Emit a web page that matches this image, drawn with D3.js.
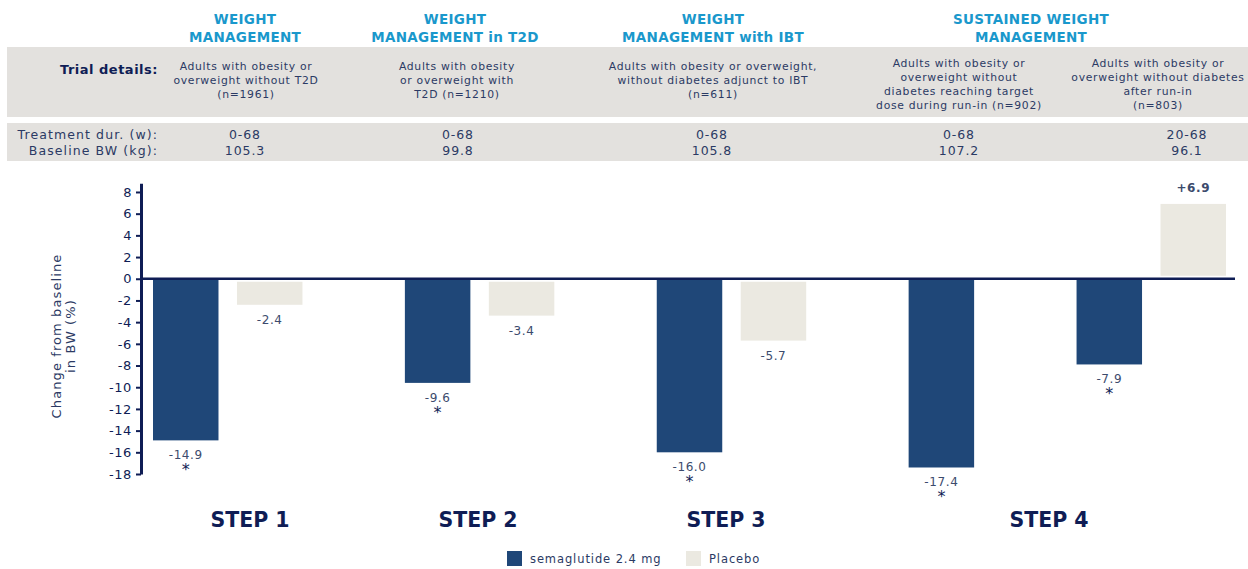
<!DOCTYPE html>
<html><head><meta charset="utf-8">
<script src="https://cdn.jsdelivr.net/npm/d3@7"></script>
<style>body{margin:0;background:#fff;} svg{display:block;font-family:"DejaVu Sans",Verdana,sans-serif;}</style>
</head><body><svg id="c" width="1248" height="569"></svg>
<script>
// ---------- data ----------
const studies = ["STEP 1", "STEP 2", "STEP 3", "STEP 4"];
const columnStudy = ["STEP 1", "STEP 2", "STEP 3", "STEP 4", "STEP 4"];
const semaValues = [-14.9, -9.6, -16.0, -17.4, -7.9];
const placeboValues = [-2.4, -3.4, -5.7, null, 6.9];
const semaSignificant = [true, true, true, true, true];
const seriesNames = ["semaglutide 2.4 mg", "Placebo"];
const trialTitles = [
  ["WEIGHT", "MANAGEMENT"],
  ["WEIGHT", "MANAGEMENT in T2D"],
  ["WEIGHT", "MANAGEMENT with IBT"],
  ["SUSTAINED WEIGHT", "MANAGEMENT"]
];
const trialDetails = [
  ["Adults with obesity or", "overweight without T2D", "(n=1961)"],
  ["Adults with obesity", "or overweight with", "T2D (n=1210)"],
  ["Adults with obesity or overweight,", "without diabetes adjunct to IBT", "(n=611)"],
  ["Adults with obesity or", "overweight without", "diabetes reaching target", "dose during run-in (n=902)"],
  ["Adults with obesity or", "overweight without diabetes", "after run-in", "(n=803)"]
];
const rowLabels = ["Treatment dur. (w):", "Baseline BW (kg):"];
const treatmentDur = ["0-68", "0-68", "0-68", "0-68", "20-68"];
const baselineBW = ["105.3", "99.8", "105.8", "107.2", "96.1"];
const yTicks = [8, 6, 4, 2, 0, -2, -4, -6, -8, -10, -12, -14, -16, -18];
const yLabel = ["Change from baseline", "in BW (%)"];

// ---------- layout (not data) ----------
const W = 1248, H = 569;
const titleX = [245, 455, 713, 1031];
const detailX = [246, 457, 713, 959, 1158];
const valueX = [245, 458, 712, 959, 1187];
const stepLabelX = [250, 478, 726, 1049];
const C = {
  navy: "#0f1d55", text: "#2b3a64", cyan: "#1a98cc", band: "#e3e1de",
  sema: "#1f4778", placebo: "#ebe9e1", value: "#3c4b6d"
};
const fmt = v => (v > 0 ? "+" : v < 0 ? "-" : "") + Math.abs(v).toFixed(1);

const svg = d3.select("#c");
svg.append("rect").attr("width", W).attr("height", H).attr("fill", "#fff");

// ---------- table ----------
svg.append("rect").attr("x", 7).attr("y", 47).attr("width", W - 7).attr("height", 70).attr("fill", C.band);
svg.append("rect").attr("x", 7).attr("y", 123).attr("width", W - 7).attr("height", 38).attr("fill", C.band);

trialTitles.forEach((lines, i) => {
  lines.forEach((t, j) => {
    svg.append("text").attr("x", titleX[i]).attr("y", 24 + j * 17.5)
      .attr("text-anchor", "middle").attr("font-size", 13.5).attr("font-weight", "bold")
      .attr("letter-spacing", 0.3).attr("fill", C.cyan).text(t);
  });
});

svg.append("text").attr("x", 158).attr("y", 74).attr("text-anchor", "end")
  .attr("font-size", 13).attr("font-weight", "bold").attr("letter-spacing", 0.5)
  .attr("fill", C.navy).text("Trial details:");

trialDetails.forEach((lines, i) => {
  const y0 = lines.length > 3 ? 67 : 70;
  lines.forEach((t, j) => {
    svg.append("text").attr("x", detailX[i]).attr("y", y0 + j * 14)
      .attr("text-anchor", "middle").attr("font-size", 10.8).attr("letter-spacing", 0.7)
      .attr("fill", C.text).text(t);
  });
});

[treatmentDur, baselineBW].forEach((row, r) => {
  const y = 139 + r * 16;
  svg.append("text").attr("x", 158).attr("y", y).attr("text-anchor", "end")
    .attr("font-size", 12.5).attr("letter-spacing", 1.1).attr("fill", C.text).text(rowLabels[r]);
  row.forEach((t, i) => {
    svg.append("text").attr("x", valueX[i]).attr("y", y).attr("text-anchor", "middle")
      .attr("font-size", 12.5).attr("letter-spacing", 0.9).attr("fill", C.text).text(t);
  });
});

// ---------- chart ----------
// slots: a semaglutide and a placebo slot per column, plus a gap slot between studies
const slots = [];
columnStudy.forEach((s, i) => {
  slots.push(i + "-s", i + "-p");
  if (i < columnStudy.length - 1 && columnStudy[i + 1] !== s) slots.push("gap" + i);
});
const x = d3.scaleBand().domain(slots).range([153, 1226]).paddingInner(0.22).paddingOuter(0);
const y = d3.scaleLinear().domain([-18, 8.8]).range([474, 183.3]);

const bars = [];
columnStudy.forEach((s, i) => {
  bars.push({ key: i + "-s", v: semaValues[i], series: 0, sig: semaSignificant[i] });
  if (placeboValues[i] !== null) bars.push({ key: i + "-p", v: placeboValues[i], series: 1, sig: false });
});

// y axis
const yAxis = d3.axisLeft(y).tickValues(yTicks).tickFormat(d => (d < 0 ? "-" : "") + Math.abs(d))
  .tickSizeOuter(0).tickSizeInner(5).tickPadding(4);
const gy = svg.append("g").attr("transform", "translate(141,0)").call(yAxis);
gy.select(".domain").attr("stroke", C.navy).attr("stroke-width", 3);
gy.selectAll(".tick line").attr("stroke", C.navy).attr("stroke-width", 2);
gy.selectAll(".tick text").attr("font-size", 13).attr("fill", C.navy).attr("letter-spacing", 0.6)
  .attr("font-family", '"DejaVu Sans",Verdana,sans-serif');

yLabel.forEach((t, j) => {
  svg.append("text").attr("transform", `translate(${61 + j * 14},336) rotate(-90)`)
    .attr("text-anchor", "middle").attr("font-size", 13).attr("letter-spacing", 1.1)
    .attr("fill", C.text).text(t);
});

// bars
svg.append("g").selectAll("rect").data(bars).join("rect")
  .attr("x", d => x(d.key))
  .attr("width", x.bandwidth())
  .attr("y", d => {
    const off = d.series === 1 ? 3 : 0;
    return d.v < 0 ? y(0) + off : y(d.v);
  })
  .attr("height", d => {
    const off = d.series === 1 ? 3 : 0;
    return Math.abs(y(d.v) - y(0)) - off;
  })
  .attr("fill", d => d.series === 0 ? C.sema : C.placebo);

// zero line
svg.append("line").attr("x1", 141).attr("x2", 1235).attr("y1", y(0)).attr("y2", y(0))
  .attr("stroke", C.navy).attr("stroke-width", 2.5);

// value labels
const lab = svg.append("g");
bars.forEach(d => {
  const cx = x(d.key) + x.bandwidth() / 2;
  const ty = d.v < 0 ? y(d.v) + 19 : y(d.v) - 12;
  lab.append("text").attr("x", cx).attr("y", ty).attr("text-anchor", "middle")
    .attr("font-size", 12).attr("letter-spacing", 0.6).attr("fill", C.value)
    .attr("font-weight", d.v > 0 ? "bold" : "normal").text(fmt(d.v));
  if (d.sig) {
    lab.append("text").attr("x", cx).attr("y", y(d.v) + 35).attr("text-anchor", "middle")
      .attr("font-size", 16).attr("fill", C.navy).text("*");
  }
});

// study labels
studies.forEach((s, i) => {
  svg.append("text").attr("x", stepLabelX[i]).attr("y", 527).attr("text-anchor", "middle")
    .attr("font-size", 20.5).attr("font-weight", "bold").attr("fill", C.navy).text(s);
});

// legend
const legX = [507, 686];
seriesNames.forEach((n, i) => {
  svg.append("rect").attr("x", legX[i]).attr("y", 551).attr("width", 15).attr("height", 15)
    .attr("fill", i === 0 ? C.sema : C.placebo);
  svg.append("text").attr("x", legX[i] + 23).attr("y", 563).attr("font-size", 11.5)
    .attr("letter-spacing", 0.9).attr("fill", C.text).text(n);
});
</script>
</body></html>
